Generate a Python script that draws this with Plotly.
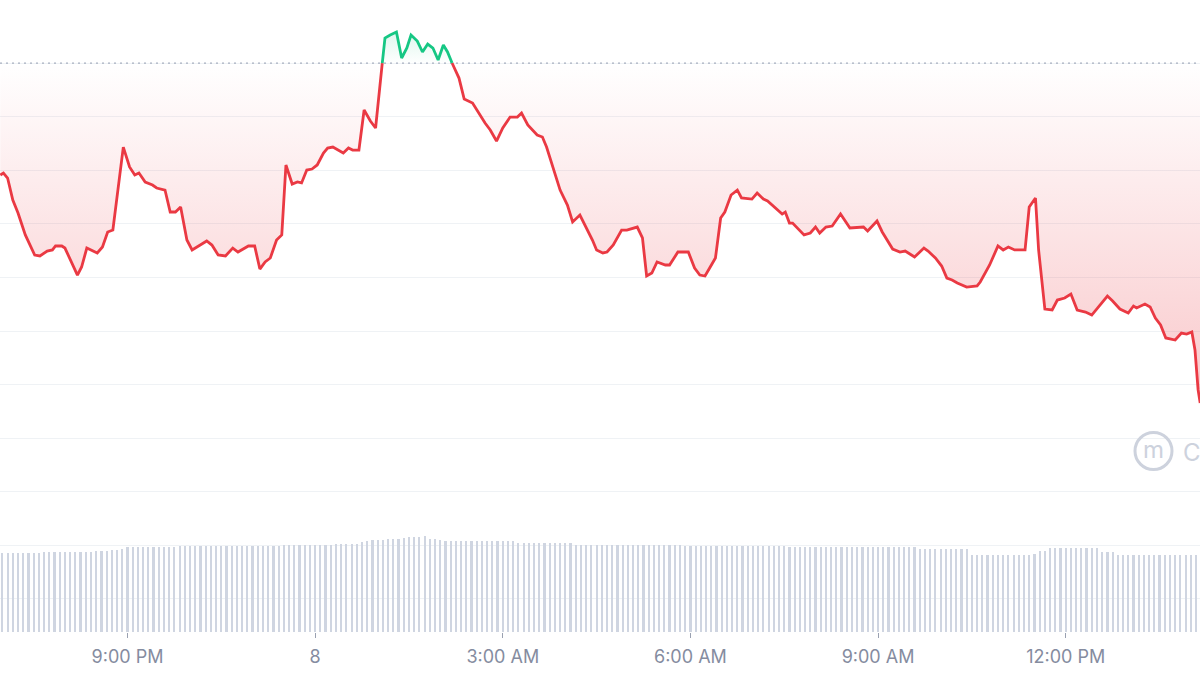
import pandas as pd
import plotly.graph_objects as go

# ---------------- data ----------------
BASE_DAY = "2024-03-08"          # day labelled "8" on the axis
REF_PRICE = 30.000               # dotted reference (open) price

# minutes relative to midnight of BASE_DAY
price_minutes = [
    -302, -299, -295, -290, -285, -278, -269, -264, -257, -252,
    -249, -243, -240, -228, -224, -219, -209, -204, -199, -194,
    -184, -178, -173, -169, -163, -156, -152, -144, -139, -134,
    -129, -123, -118, -110, -104, -99, -93, -86, -79, -74,
    -64, -58, -53, -48, -43, -37, -32, -28, -22, -17,
    -13, -8, -3, 2, 8, 12, 17, 27, 32, 36,
    42, 47, 53, 58, 64, 67, 72, 78, 83, 88,
    92, 98, 103, 108, 113, 118, 123, 127, 132, 138,
    143, 151, 163, 168, 174, 180, 187, 194, 198, 204,
    213, 218, 222, 225, 235, 242, 247, 254, 259, 266,
    270, 276, 280, 286, 294, 299, 309, 314, 318, 323,
    328, 336, 340, 348, 358, 364, 369, 374, 379, 384,
    389, 393, 399, 405, 409, 419, 424, 430, 434, 443,
    448, 451, 455, 458, 469, 475, 480, 484, 490, 496,
    501, 504, 513, 521, 526, 530, 539, 544, 550, 554,
    561, 566, 569, 575, 584, 588, 595, 601, 606, 611,
    616, 625, 635, 638, 647, 655, 660, 665, 671, 681,
    685, 691, 694, 700, 707, 712, 719, 725, 731, 739,
    745, 753, 760, 765, 772, 780, 785, 788, 796, 801,
    806, 811, 816, 825, 831, 836, 841, 844, 847, 849,
]

price_values = [
    28.955, 28.974, 28.927, 28.722, 28.601, 28.396, 28.209, 28.200, 28.246, 28.256,
    28.293, 28.293, 28.274, 28.022, 28.097, 28.274, 28.228, 28.284, 28.424, 28.442,
    29.216, 29.030, 28.955, 28.974, 28.890, 28.862, 28.834, 28.815, 28.610, 28.610,
    28.657, 28.349, 28.256, 28.302, 28.340, 28.302, 28.209, 28.200, 28.274, 28.237,
    28.293, 28.293, 28.078, 28.144, 28.181, 28.349, 28.396, 29.049, 28.871, 28.890,
    28.881, 29.002, 29.011, 29.049, 29.160, 29.207, 29.216, 29.160, 29.207, 29.188,
    29.188, 29.562, 29.459, 29.394, 29.963, 30.233, 30.261, 30.289, 30.047, 30.140,
    30.261, 30.205, 30.103, 30.177, 30.140, 30.028, 30.168, 30.103, 29.985, 29.860,
    29.664, 29.627, 29.440, 29.375, 29.272, 29.394, 29.496, 29.496, 29.534, 29.422,
    29.328, 29.310, 29.216, 29.123, 28.815, 28.675, 28.517, 28.582, 28.489, 28.349,
    28.256, 28.228, 28.237, 28.302, 28.442, 28.442, 28.470, 28.368, 28.013, 28.041,
    28.144, 28.116, 28.116, 28.237, 28.237, 28.088, 28.022, 28.013, 28.097, 28.181,
    28.554, 28.610, 28.769, 28.815, 28.741, 28.731, 28.787, 28.731, 28.713, 28.629,
    28.591, 28.610, 28.507, 28.507, 28.396, 28.414, 28.470, 28.414, 28.470, 28.479,
    28.554, 28.591, 28.461, 28.470, 28.470, 28.433, 28.526, 28.424, 28.330, 28.265,
    28.237, 28.246, 28.228, 28.190, 28.274, 28.246, 28.181, 28.106, 27.994, 27.976,
    27.948, 27.910, 27.920, 27.957, 28.116, 28.293, 28.256, 28.284, 28.256, 28.256,
    28.657, 28.741, 28.256, 27.705, 27.696, 27.789, 27.808, 27.845, 27.696, 27.677,
    27.649, 27.743, 27.826, 27.780, 27.705, 27.668, 27.733, 27.715, 27.752, 27.724,
    27.621, 27.556, 27.435, 27.416, 27.481, 27.472, 27.491, 27.323, 26.950, 26.828,
]

# 5-minute volume bars starting at 7 Mar 19:00 (millions)
volume_start = "2024-03-07 19:00"
volume_values = [
    7.90, 7.90, 7.90, 7.90, 7.90, 7.90, 7.90, 7.90, 8.00, 8.05,
    8.05, 8.05, 8.05, 8.05, 8.05, 8.05, 8.05, 8.05, 8.10, 8.10,
    8.10, 8.20, 8.20, 8.30, 8.50, 8.50, 8.50, 8.50, 8.50, 8.50,
    8.50, 8.50, 8.50, 8.50, 8.60, 8.60, 8.60, 8.60, 8.60, 8.60,
    8.60, 8.60, 8.60, 8.60, 8.60, 8.60, 8.60, 8.60, 8.60, 8.60,
    8.60, 8.60, 8.60, 8.60, 8.75, 8.75, 8.75, 8.75, 8.75, 8.75,
    8.75, 8.75, 8.75, 8.75, 8.80, 8.80, 8.80, 8.80, 8.80, 9.00,
    9.10, 9.20, 9.20, 9.20, 9.30, 9.30, 9.30, 9.45, 9.50, 9.50,
    9.55, 9.60, 9.30, 9.30, 9.25, 9.10, 9.10, 9.10, 9.10, 9.10,
    9.10, 9.10, 9.10, 9.10, 9.10, 9.10, 9.10, 9.10, 9.10, 8.90,
    8.90, 8.90, 8.90, 8.90, 8.90, 8.90, 8.90, 8.90, 8.90, 8.90,
    8.70, 8.70, 8.70, 8.70, 8.70, 8.70, 8.70, 8.70, 8.70, 8.70,
    8.70, 8.70, 8.70, 8.70, 8.70, 8.70, 8.70, 8.70, 8.70, 8.70,
    8.70, 8.60, 8.60, 8.60, 8.60, 8.60, 8.60, 8.60, 8.60, 8.60,
    8.60, 8.60, 8.60, 8.60, 8.60, 8.60, 8.60, 8.60, 8.60, 8.60,
    8.60, 8.55, 8.55, 8.55, 8.55, 8.55, 8.55, 8.55, 8.55, 8.55,
    8.55, 8.55, 8.55, 8.55, 8.55, 8.55, 8.55, 8.55, 8.55, 8.55,
    8.55, 8.55, 8.55, 8.55, 8.55, 8.55, 8.30, 8.30, 8.30, 8.30,
    8.30, 8.30, 8.30, 8.30, 8.30, 8.30, 7.70, 7.70, 7.70, 7.70,
    7.70, 7.70, 7.70, 7.70, 7.70, 7.70, 7.70, 7.70, 7.80, 8.10,
    8.10, 8.40, 8.40, 8.40, 8.40, 8.40, 8.40, 8.40, 8.40, 8.40,
    8.40, 8.05, 8.05, 8.05, 7.70, 7.70, 7.70, 7.70, 7.70, 7.70,
    7.70, 7.70, 7.70, 7.70, 7.70, 7.70, 7.70, 7.70, 7.70, 7.70,
]

tick_times = ["2024-03-07 21:00", "2024-03-08 00:00", "2024-03-08 03:00",
              "2024-03-08 06:00", "2024-03-08 09:00", "2024-03-08 12:00"]
tick_labels = ["9:00 PM", "8", "3:00 AM", "6:00 AM", "9:00 AM", "12:00 PM"]
price_gridlines = [25.0, 25.5, 26.0, 26.5, 27.0, 27.5, 28.0, 28.5, 29.0, 29.5, 30.0]

X_RANGE = ["2024-03-07 18:57:43", "2024-03-08 14:08:49"]
Y_RANGE = [24.692, 30.588]
VOL_RANGE = [0, 63.2]

RED = "#ea3943"
GREEN = "#16c784"

# ---------------- build series ----------------
assert len(price_minutes) == len(price_values)
times = pd.Timestamp(BASE_DAY) + pd.to_timedelta(price_minutes, unit="min")

# insert the exact crossing points with the reference price so colours split cleanly
xs, ys = [], []
for i, (t, p) in enumerate(zip(times, price_values)):
    if i > 0:
        p0, t0 = price_values[i - 1], times[i - 1]
        if (p0 - REF_PRICE) * (p - REF_PRICE) < 0:
            f = (REF_PRICE - p0) / (p - p0)
            xs.append(t0 + (t - t0) * f)
            ys.append(REF_PRICE)
    xs.append(t)
    ys.append(p)

below = [min(v, REF_PRICE) for v in ys]
above = [max(v, REF_PRICE) for v in ys]
red_line = [v if v <= REF_PRICE else None for v in ys]
green_line = [v if v >= REF_PRICE else None for v in ys]
ref_line = [REF_PRICE] * len(xs)

vol_times = pd.date_range(volume_start, periods=len(volume_values), freq="5min")

fig = go.Figure()

# volume bars (secondary axis)
fig.add_trace(go.Bar(
    x=vol_times, y=volume_values, yaxis="y2",
    marker=dict(color="#cfd5e1", line=dict(width=0)),
    width=125000, hoverinfo="skip",
))

# red area between price and reference
fig.add_trace(go.Scatter(x=xs, y=ref_line, mode="lines",
                         line=dict(width=0), hoverinfo="skip"))
fig.add_trace(go.Scatter(
    x=xs, y=below, mode="lines", line=dict(width=0), fill="tonexty",
    fillgradient=dict(type="vertical", start=26.8, stop=REF_PRICE,
                      colorscale=[[0, "rgba(234,57,67,0.28)"],
                                  [1, "rgba(234,57,67,0.0)"]]),
    hoverinfo="skip"))
# green area
fig.add_trace(go.Scatter(x=xs, y=ref_line, mode="lines",
                         line=dict(width=0), hoverinfo="skip"))
fig.add_trace(go.Scatter(
    x=xs, y=above, mode="lines", line=dict(width=0), fill="tonexty",
    fillgradient=dict(type="vertical", start=REF_PRICE, stop=30.3,
                      colorscale=[[0, "rgba(22,199,132,0.0)"],
                                  [1, "rgba(22,199,132,0.14)"]]),
    hoverinfo="skip"))

# dotted reference line
fig.add_trace(go.Scatter(
    x=X_RANGE, y=[REF_PRICE, REF_PRICE], mode="lines",
    line=dict(color="#a7afbf", width=1.3, dash="2px,4px"), hoverinfo="skip"))

# price line
fig.add_trace(go.Scatter(x=xs, y=red_line, mode="lines",
                         line=dict(color=RED, width=2.8, shape="linear"),
                         connectgaps=False))
fig.add_trace(go.Scatter(x=xs, y=green_line, mode="lines",
                         line=dict(color=GREEN, width=2.8, shape="linear"),
                         connectgaps=False))

PLOT_H = 632.0
def py(pix):
    return 1 - pix / PLOT_H

# watermark logo + text
cx, cy, r = 1153.5, 451.0, 18.5
fig.add_shape(type="circle", xref="paper", yref="paper",
              x0=(cx - r) / 1200, x1=(cx + r) / 1200,
              y0=py(cy + r), y1=py(cy - r),
              line=dict(color="#cdd2dd", width=3))
fig.add_annotation(x=cx / 1200, y=py(cy - 2), xref="paper", yref="paper",
                   xanchor="center", yanchor="middle",
                   text="m", showarrow=False,
                   font=dict(family="Inter", size=24, color="#cdd2dd"))
fig.add_annotation(x=1181 / 1200, y=py(452), xref="paper", yref="paper",
                   xanchor="left", yanchor="middle", text="C", showarrow=False,
                   font=dict(family="Inter", size=24, color="#cdd2dd"))

fig.update_layout(
    width=1200, height=675,
    margin=dict(l=0, r=0, t=0, b=43, pad=0),
    paper_bgcolor="white", plot_bgcolor="white",
    showlegend=False, hovermode=False, bargap=0,
    xaxis=dict(type="date", range=X_RANGE, showgrid=False, zeroline=False,
               showline=False, tickmode="array", tickvals=tick_times,
               ticktext=tick_labels, ticks="outside", ticklen=5, tickwidth=1,
               tickcolor="#9aa1b1", ticklabelstandoff=3,
               tickfont=dict(family="Inter", size=18, color="#858ca0")),
    yaxis=dict(range=Y_RANGE, tickmode="array", tickvals=price_gridlines,
               showticklabels=False, showgrid=True, gridcolor="#eff2f5",
               gridwidth=1, zeroline=False, showline=False),
    yaxis2=dict(range=VOL_RANGE, overlaying="y", visible=False,
                showgrid=False, zeroline=False),
)

fig.write_html("out.html",
               config={"displayModeBar": False, "staticPlot": True},
               post_script="document.body.style.margin='0';"
                           "document.body.style.overflow='hidden';")
